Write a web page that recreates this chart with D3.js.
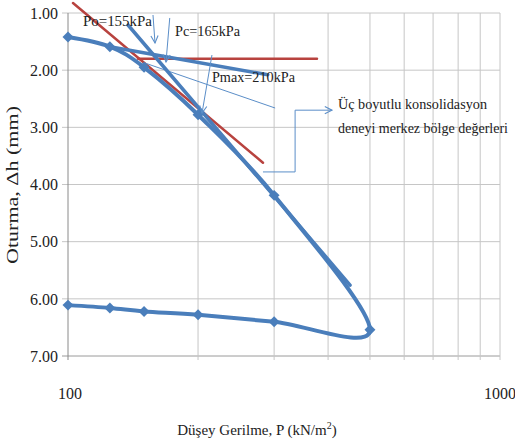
<!DOCTYPE html>
<html>
<head>
<meta charset="utf-8">
<script src="https://cdn.jsdelivr.net/npm/d3@7"></script>
<style>
  body { margin: 0; background: #fff; }
</style>
</head>
<body>
<div id="chart"></div>
<script>
// test points: loading then unloading (kPa, mm)
var pressure = [100, 125, 150, 200, 300, 500, 300, 200, 150, 125, 100];
var settlement = [1.42, 1.59, 1.95, 2.78, 4.19, 6.54, 6.40, 6.28, 6.22, 6.16, 6.11];

var yTicks = [1, 2, 3, 4, 5, 6, 7];
var xTicks = [100, 1000];
var xGrid = [100, 200, 300, 400, 500, 600, 700, 800, 900, 1000];

// construction lines [P1, dh1, P2, dh2]
var tangentLine = [137.7, 1.21, 449.6, 5.76];
var recompLine = [125, 1.59, 290, 2.08];
var redSlope = [102.7, 0.825, 282.7, 3.62];
var redFlat = [145.2, 1.80, 377, 1.80];
var bisector = [150.7, 1.875, 301, 2.66];

// arrows under the labels
var arrows = [
    {label: "Po=155kPa", from: [157.3, 1.035], to: [159, 1.525], text: [108.3, 1.23], w: 69},
    {label: "Pc=165kPa", from: [172, 1.087], to: [168.6, 1.857], text: [176.9, 1.40], w: 65},
    {label: "Pmax=210kPa", from: [215.4, 1.735], to: [204.3, 2.75], text: [215.4, 2.21], w: 83}
];
var calloutPath = [[282.7, 3.78], [335.5, 3.78], [335.5, 2.70], [408.4, 2.70]];
var calloutText = ["Üç boyutlu konsolidasyon", "deneyi merkez bölge değerleri"];
var calloutWidth = [149, 170];

var width = 515, height = 445;
var blue = "#4a7ebb", red = "#b8433f", thin = "#5b8ec8", grid = "#c6c6c6";
var serif = "'Liberation Serif', 'Times New Roman', Tinos, 'DejaVu Serif', serif";

var svg = d3.select("#chart").append("svg")
    .attr("width", width)
    .attr("height", height)
    .attr("font-family", serif)
    .style("font-family", serif);

svg.append("rect").attr("width", width).attr("height", height).attr("fill", "#fff");

var x = d3.scaleLog().domain([100, 1000]).range([68, 500]);
var y = d3.scaleLinear().domain([1, 7]).range([13, 356]);

var defs = svg.append("defs");
defs.append("marker")
    .attr("id", "arr")
    .attr("viewBox", "0 0 10 10")
    .attr("refX", 9).attr("refY", 5)
    .attr("markerWidth", 9).attr("markerHeight", 9)
    .attr("markerUnits", "userSpaceOnUse")
    .attr("orient", "auto")
    .append("path")
    .attr("d", "M1,1 L9,5 L1,9")
    .attr("fill", "none")
    .attr("stroke", thin)
    .attr("stroke-width", 1.2);

// grid
var g = svg.append("g");
g.selectAll(".hg").data(yTicks).enter().append("line")
    .attr("x1", 62).attr("x2", x(1000))
    .attr("y1", function(d) { return y(d); })
    .attr("y2", function(d) { return y(d); })
    .attr("stroke", function(d) { return d == 7 ? "#9a9a9a" : grid; })
    .attr("stroke-width", 1);
g.selectAll(".vg").data(xGrid).enter().append("line")
    .attr("x1", function(d) { return x(d); })
    .attr("x2", function(d) { return x(d); })
    .attr("y1", y(1)).attr("y2", y(7) + 4)
    .attr("stroke", function(d) { return d == 100 ? "#8a8a8a" : grid; })
    .attr("stroke-width", 1);

function txt(sel) {
    return sel.attr("font-family", serif).style("font-family", serif).attr("fill", "#222");
}

// tick labels
txt(svg.selectAll(".yt").data(yTicks).enter().append("text"))
    .attr("x", 58)
    .attr("y", function(d) { return y(d); })
    .attr("dy", "0.36em")
    .attr("text-anchor", "end")
    .style("font-size", "16px")
    .text(function(d) { return d.toFixed(2); });
txt(svg.selectAll(".xt").data(xTicks).enter().append("text"))
    .attr("x", function(d) { return d == 100 ? x(d) + 2 : x(d); })
    .attr("y", 399)
    .attr("text-anchor", "middle")
    .style("font-size", "16px")
    .text(function(d) { return d; });

// axis titles
var xt = txt(svg.append("text"))
    .attr("x", 257).attr("y", 435)
    .attr("text-anchor", "middle")
    .style("font-size", "15px")
    .text("Düşey Gerilme, P (kN/m");
xt.append("tspan").attr("dy", -6).style("font-size", "10px").text("2");
xt.append("tspan").attr("dy", 6).text(")");

txt(svg.append("text"))
    .attr("transform", "translate(18,185) rotate(-90)")
    .attr("text-anchor", "middle")
    .attr("textLength", 158)
    .attr("lengthAdjust", "spacingAndGlyphs")
    .style("font-size", "16px")
    .text("Oturma, Δh (mm)");

function seg(s, color, w) {
    svg.append("line")
        .attr("x1", x(s[0])).attr("y1", y(s[1]))
        .attr("x2", x(s[2])).attr("y2", y(s[3]))
        .attr("stroke", color)
        .attr("stroke-width", w)
        .attr("stroke-linecap", "round");
}

// main curve
var pts = pressure.map(function(p, i) { return [p, settlement[i]]; });
var line = d3.line()
    .x(function(d) { return x(d[0]); })
    .y(function(d) { return y(d[1]); })
    .curve(d3.curveCardinal.tension(0));

seg(redSlope, red, 2.5);
seg(redFlat, red, 2.5);
seg(bisector, thin, 1);

svg.append("path")
    .datum(pts)
    .attr("d", line)
    .attr("fill", "none")
    .attr("stroke", blue)
    .attr("stroke-width", 4);

svg.selectAll(".pt").data(pts).enter().append("path")
    .attr("d", d3.symbol(d3.symbolSquare, 60)())
    .attr("transform", function(d) { return "translate(" + x(d[0]) + "," + y(d[1]) + ") rotate(45)"; })
    .attr("fill", blue);

seg(tangentLine, blue, 3.5);
seg(recompLine, blue, 3.5);

// arrows and labels
arrows.forEach(function(a) {
    svg.append("line")
        .attr("x1", x(a.from[0])).attr("y1", y(a.from[1]))
        .attr("x2", x(a.to[0])).attr("y2", y(a.to[1]))
        .attr("stroke", thin)
        .attr("stroke-width", 1)
        .attr("marker-end", "url(#arr)");
    txt(svg.append("text"))
        .attr("x", x(a.text[0])).attr("y", y(a.text[1]))
        .attr("textLength", a.w)
        .attr("lengthAdjust", "spacingAndGlyphs")
        .style("font-size", "15px")
        .text(a.label);
});

// callout
svg.append("path")
    .attr("d", d3.line()
        .x(function(d) { return x(d[0]); })
        .y(function(d) { return y(d[1]); })(calloutPath))
    .attr("fill", "none")
    .attr("stroke", thin)
    .attr("stroke-width", 1)
    .attr("marker-end", "url(#arr)");

txt(svg.selectAll(".ct").data(calloutText).enter().append("text"))
    .attr("x", x(calloutPath[3][0]) + 6)
    .attr("y", function(d, i) { return 109 + i * 24; })
    .attr("textLength", function(d, i) { return calloutWidth[i]; })
    .attr("lengthAdjust", "spacingAndGlyphs")
    .style("font-size", "14px")
    .text(function(d) { return d; });
</script>
</body>
</html>
